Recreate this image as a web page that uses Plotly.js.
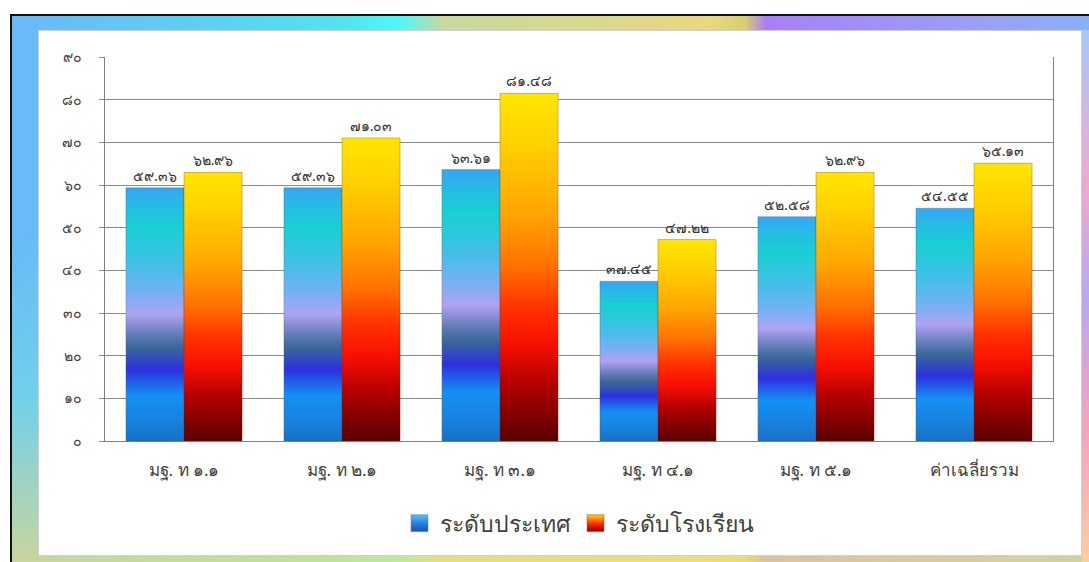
<!DOCTYPE html>
<html>
<head>
<meta charset="utf-8">
<script src="https://cdn.plot.ly/plotly-3.0.1.min.js"></script>
<style>
  html, body { margin:0; padding:0; width:1089px; height:562px; overflow:hidden; background:#ffffff; }
  #frame { position:absolute; left:10px; top:14px; width:1079px; height:548px;
    border-left:2px solid #111; border-top:2px solid #111; box-sizing:border-box;
    background:
      linear-gradient(90deg, #6ab8f8 0%, #55e0f0 30%, #4ff8f8 36%, #c8d8a0 40%, #e8d880 65%, #d8d070 68%, #a880f8 70%, #9aa0f8 90%, #88b0f8 100%);
  }
  #frame::after { content:""; position:absolute; left:0; right:0; top:0; bottom:0;
    background: linear-gradient(180deg, rgba(255,255,255,0) 0%, rgba(255,255,255,0) 40%, rgba(120,230,220,0.5) 70%, rgba(240,225,120,0.7) 100%); pointer-events:none; }
  #rightstrip { position:absolute; left:1082px; top:30px; width:7px; height:532px;
    background:linear-gradient(180deg,#a8c8f8 0%, #f0a8d0 30%, #b8a8f0 50%, #f8a0c0 75%, #f8d0a0 100%); z-index:1; }
  #card { position:absolute; left:38px; top:30px; width:1044px; height:526px; background:#fff;
    border:1px solid #d0d0d0; box-sizing:border-box; z-index:2; }
  #chart { position:absolute; left:0; top:0; width:1042px; height:524px; }
</style>
</head>
<body>
<div id="frame"></div>
<div id="rightstrip"></div>
<div id="card"><div id="chart"></div></div>
<script>
// ---- data ----
const categories = ['มฐ. ท ๑.๑', 'มฐ. ท ๒.๑', 'มฐ. ท ๓.๑', 'มฐ. ท ๔.๑', 'มฐ. ท ๕.๑', 'ค่าเฉลี่ยรวม'];
const seriesNames = ['ระดับประเทศ', 'ระดับโรงเรียน'];
const nationalValues = [59.36, 59.36, 63.61, 37.45, 52.58, 54.55];
const schoolValues   = [62.96, 71.03, 81.48, 47.22, 62.96, 65.13];
const yTickValues = [0, 10, 20, 30, 40, 50, 60, 70, 80, 90];
const yTickLabels = ['๐', '๑๐', '๒๐', '๓๐', '๔๐', '๕๐', '๖๐', '๗๐', '๘๐', '๙๐'];

const thaiDigits = ['๐','๑','๒','๓','๔','๕','๖','๗','๘','๙'];
function toThai(v) { return v.toFixed(2).replace(/[0-9]/g, d => thaiDigits[+d]); }

const FONT = 'Tahoma, "Noto Sans", "DejaVu Sans", sans-serif';

const traces = [
  { type:'bar', name: seriesNames[0], x: categories, y: nationalValues,
    text: nationalValues.map(toThai), textposition:'outside', cliponaxis:false,
    textfont:{ size:14, color:'#303030', family:FONT },
    marker:{ color:'#2a8fe8', line:{ color:'rgba(40,90,160,0.3)', width:1 } } },
  { type:'bar', name: seriesNames[1], x: categories, y: schoolValues,
    text: schoolValues.map(toThai), textposition:'outside', cliponaxis:false,
    textfont:{ size:14, color:'#303030', family:FONT },
    marker:{ color:'#ff6000', line:{ color:'rgba(120,40,0,0.3)', width:1 } } }
];

const layout = {
  width:1042, height:524,
  margin:{ l:66, r:28, t:26, b:113 },
  paper_bgcolor:'rgba(0,0,0,0)', plot_bgcolor:'#ffffff',
  font:{ family:FONT, color:'#404040' },
  bargap:0.265, bargroupgap:0,
  showlegend:true,
  legend:{ orientation:'h', x:0.5, xanchor:'center', y:-0.155, yanchor:'top',
    font:{ size:23, color:'#404040', family:FONT }, traceorder:'normal' },
  xaxis:{ type:'category', showgrid:false, showline:true, linecolor:'#808080', linewidth:1,
    ticks:'', tickfont:{ size:17, color:'#404040', family:FONT }, ticklabelstandoff:14, mirror:false },
  yaxis:{ range:[0, 90], tickvals:yTickValues, ticktext:yTickLabels,
    showgrid:true, gridcolor:'#8a8a8a', gridwidth:1, zeroline:false,
    showline:true, linecolor:'#808080', linewidth:1, mirror:true,
    ticks:'outside', ticklen:5, tickcolor:'#8a8a8a',
    tickfont:{ size:14, color:'#404040', family:FONT }, ticklabelstandoff:14 }
};

Plotly.newPlot('chart', traces, layout, { displayModeBar:false, staticPlot:true }).then(gd => {
  const svg = gd.querySelector('svg.main-svg');
  const ns = 'http://www.w3.org/2000/svg';
  let defs = svg.querySelector('defs');
  if (!defs) { defs = document.createElementNS(ns, 'defs'); svg.insertBefore(defs, svg.firstChild); }
  function grad(id, stops) {
    const g = document.createElementNS(ns, 'linearGradient');
    g.setAttribute('id', id); g.setAttribute('x1','0'); g.setAttribute('y1','0');
    g.setAttribute('x2','0'); g.setAttribute('y2','1');
    stops.forEach(([o,c]) => { const s = document.createElementNS(ns,'stop');
      s.setAttribute('offset', o); s.setAttribute('stop-color', c); g.appendChild(s); });
    defs.appendChild(g);
  }
  grad('gBlue', [[0,'#35a6f2'],[0.06,'#28b8e8'],[0.16,'#18d0d2'],[0.30,'#40c0e8'],[0.42,'#78b0f4'],
    [0.50,'#b0a2f2'],[0.57,'#6a80c0'],[0.63,'#3a6898'],[0.72,'#2c30e0'],[0.82,'#1490f4'],[0.92,'#1882e0'],[1,'#1a70c0']]);
  grad('gRed', [[0,'#ffe600'],[0.15,'#ffd000'],[0.35,'#ffa400'],[0.50,'#ff7000'],[0.62,'#ff3000'],
    [0.72,'#f81000'],[0.84,'#b00000'],[1,'#5a0000']]);
  grad('gBlueL', [[0,'#50c8f8'],[0.5,'#2a80e0'],[1,'#1850b0']]);
  grad('gRedL', [[0,'#ffe000'],[0.5,'#ff3000'],[1,'#900000']]);
  const ids = ['gBlue','gRed'];
  const lids = ['gBlueL','gRedL'];
  gd.querySelectorAll('.barlayer .trace').forEach((t, i) => {
    t.querySelectorAll('path').forEach(p => { p.style.fill = 'url(#' + ids[i] + ')'; });
  });
  gd.querySelectorAll('.legend .traces').forEach((t, i) => {
    t.querySelectorAll('.legendpoints path').forEach(p => {
      p.style.fill = 'url(#' + lids[i] + ')';
      p.setAttribute('transform', (p.getAttribute('transform') || '') + ' scale(1.4)');
    });
  });
});
</script>
</body>
</html>
